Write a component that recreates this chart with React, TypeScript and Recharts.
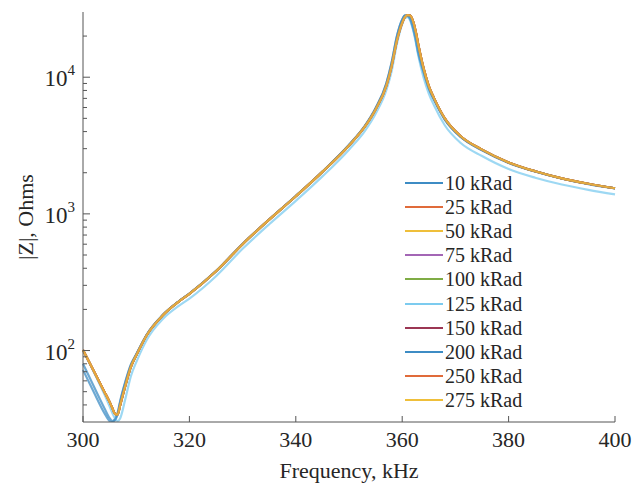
import React from "react";
import { LineChart, Line, XAxis, YAxis, Legend } from "recharts";

// frequency grid, kHz (denser around the dip and the resonance)
const freqKHz = [
  300, 302, 304, 305, 305.5, 306, 306.5, 307, 308, 309, 310, 312, 315, 318, 320,
  325, 330, 335, 340, 345, 350, 353, 355, 357, 358, 359, 360, 360.5, 361, 361.5,
  362, 362.5, 363, 364, 365, 366, 368, 371, 375, 380, 385, 390, 395, 400,
];

// |Z|, Ohms
const zMain = [
  101, 71, 50, 42, 38, 34.5, 34, 40, 56, 76, 92, 130, 181, 228, 260,
  380, 600, 908, 1346, 2030, 3170, 4360, 5810, 8600, 12000, 18500, 25000, 27500, 28500, 28300,
  26000, 22000, 17500, 11700, 8600, 7000, 5000, 3700, 2950, 2380, 2050, 1820, 1660, 1540,
];
const z10 = [
  80, 55, 38, 32, 30.5, 31.5, 35, 43, 60, 79, 94, 131, 182, 229, 261,
  381, 602, 912, 1352, 2040, 3200, 4420, 5950, 9000, 12800, 20000, 26500, 28300, 28000, 26500,
  23000, 19000, 15000, 10800, 8200, 6800, 4900, 3650, 2920, 2360, 2040, 1810, 1650, 1535,
];
const z125 = [
  100, 70, 48, 39, 35, 32, 30.5, 32, 45, 65, 82, 120, 170, 212, 240,
  350, 555, 840, 1245, 1880, 2950, 4050, 5400, 8000, 11000, 17500, 24500, 27000, 27500, 26000,
  22500, 18500, 14500, 10000, 7600, 6200, 4450, 3300, 2650, 2130, 1840, 1640, 1500, 1390,
];
const z200 = [
  72, 50, 35, 30.5, 30, 31, 34, 42, 59, 78, 93, 131, 182, 229, 261,
  381, 601, 910, 1350, 2035, 3190, 4400, 5900, 8900, 12600, 19800, 26300, 28200, 28100, 26800,
  23400, 19400, 15300, 11000, 8300, 6850, 4920, 3660, 2930, 2370, 2045, 1815, 1655, 1538,
];

const seriesNames = [
  "10 kRad", "25 kRad", "50 kRad", "75 kRad", "100 kRad",
  "125 kRad", "150 kRad", "200 kRad", "250 kRad", "275 kRad",
];
const seriesValues = [z10, zMain, zMain, zMain, zMain, z125, zMain, z200, zMain, zMain];
const seriesColors = [
  "#3d8cc4", "#e06b3a", "#efbf3a", "#a366b5", "#7fac45",
  "#7ccbef", "#9b3653", "#3d8cc4", "#e06b3a", "#efbf3a",
];

const xTicks = [300, 320, 340, 360, 380, 400];
const yDecades = [100, 1000, 10000];
const yTicks = [
  40, 50, 60, 70, 80, 90, 100, 200, 300, 400, 500, 600, 700, 800, 900,
  1000, 2000, 3000, 4000, 5000, 6000, 7000, 8000, 9000, 10000, 20000,
];

const data = freqKHz.map((f, i) => {
  const row: Record<string, number> = { f };
  seriesNames.forEach((n, s) => {
    row[n] = seriesValues[s][i];
  });
  return row;
});

const SERIF = "'Liberation Serif', 'DejaVu Serif', 'Times New Roman', serif";
const AXIS = "#555555";
const INK = "#262626";

function XTick({ x, y, payload }: any) {
  return (
    <g>
      <line x1={x} x2={x} y1={y} y2={y - 6} stroke={AXIS} />
      <text x={x} y={y + 25} textAnchor="middle" style={{ fontFamily: SERIF, fontSize: 22 }} fill={INK}>
        {payload.value}
      </text>
    </g>
  );
}

function YTick({ x, y, payload }: any) {
  const v = payload.value;
  const major = yDecades.includes(v);
  const exp = Math.round(Math.log10(v));
  return (
    <g>
      <line x1={x} x2={x + (major ? 7 : 4)} y1={y} y2={y} stroke={AXIS} />
      {major && (
        <text x={x - 8} y={y + 9} textAnchor="end" style={{ fontFamily: SERIF, fontSize: 23 }} fill={INK}>
          <tspan>10</tspan>
          <tspan dy={-11} style={{ fontSize: 15 }}>{exp}</tspan>
        </text>
      )}
    </g>
  );
}

const renderLegend = () => (
  <div style={{ fontFamily: SERIF, fontSize: 20, color: INK }}>
    {seriesNames.map((n, i) => (
      <div key={n} style={{ display: "flex", alignItems: "center", height: 24.1 }}>
        <svg width={40} height={4}>
          <line x1={0} x2={38} y1={2} y2={2} stroke={seriesColors[i]} strokeWidth={2} />
        </svg>
        <span style={{ lineHeight: 1, whiteSpace: "nowrap" }}>{n}</span>
      </div>
    ))}
  </div>
);

export default function App() {
  return (
    <div style={{ position: "absolute", left: 0, top: 0, width: 641, height: 487, background: "#fff" }}>
      <LineChart width={641} height={487} data={data} margin={{ top: 12, right: 26, bottom: 0, left: 0 }}>
        <XAxis
          dataKey="f"
          type="number"
          domain={[300, 400]}
          ticks={xTicks}
          interval={0}
          height={65}
          stroke={AXIS}
          tickLine={false}
          tickSize={0}
          tickMargin={0}
          tick={<XTick />}
          label={{
            content: () => (
              <text x={349} y={478} textAnchor="middle" style={{ fontFamily: SERIF, fontSize: 22 }} fill={INK}>
                Frequency, kHz
              </text>
            ),
          }}
        />
        <YAxis
          scale="log"
          type="number"
          domain={[30, 30000]}
          allowDataOverflow
          ticks={yTicks}
          interval={0}
          width={83}
          stroke={AXIS}
          tickLine={false}
          tickSize={0}
          tickMargin={0}
          tick={<YTick />}
          label={{
            content: () => (
              <text
                x={25}
                y={217}
                transform="rotate(-90 25 217)"
                textAnchor="middle"
                dominantBaseline="central"
                style={{ fontFamily: SERIF, fontSize: 22 }}
                fill={INK}
              >
                |Z|, Ohms
              </text>
            ),
          }}
        />
        <Legend
          layout="vertical"
          align="center"
          verticalAlign="middle"
          content={renderLegend}
          wrapperStyle={{ left: 405, top: 171, width: "auto" }}
        />
        {seriesNames.map((n, i) => (
          <Line
            key={n}
            type="monotone"
            dataKey={n}
            stroke={seriesColors[i]}
            strokeWidth={2.2}
            strokeOpacity={0.75}
            dot={false}
            isAnimationActive={false}
          />
        ))}
      </LineChart>
    </div>
  );
}
